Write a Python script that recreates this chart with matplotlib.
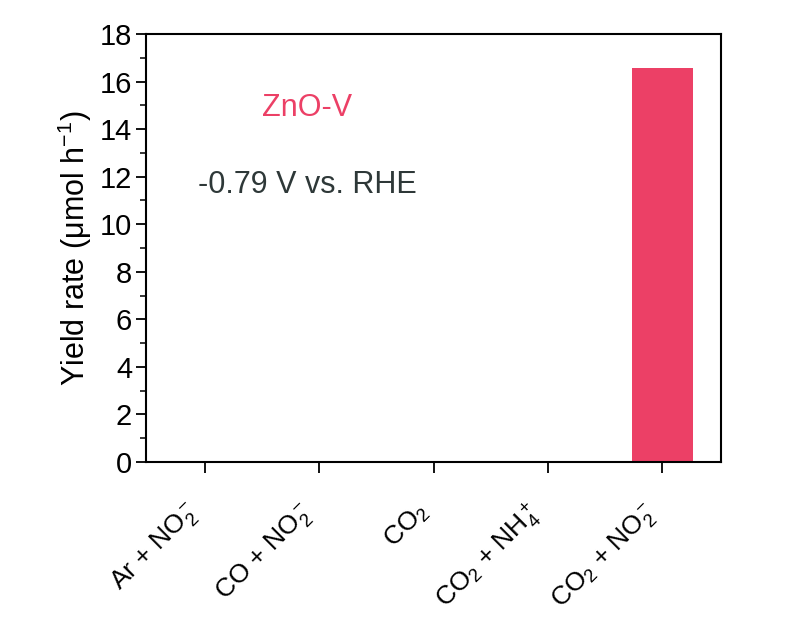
import matplotlib
matplotlib.use("Agg")
import matplotlib.pyplot as plt
from matplotlib.ticker import MultipleLocator

plt.rcParams["font.family"] = ["Liberation Sans", "DejaVu Sans"]
plt.rcParams["mathtext.fontset"] = "custom"
plt.rcParams["mathtext.rm"] = "Liberation Sans"
plt.rcParams["mathtext.it"] = "Liberation Sans:italic"
plt.rcParams["mathtext.default"] = "regular"

categories = [r"Ar + NO$_2^-$", r"CO + NO$_2^-$", r"CO$_2$",
              r"CO$_2$ + NH$_4^+$", r"CO$_2$ + NO$_2^-$"]
yield_rate = [0, 0, 0, 0, 16.55]

BAR_COLOR = "#EC4066"
TEXT_DARK = "#2E3838"

fig = plt.figure(figsize=(8, 6.35), dpi=100)
ax = fig.add_axes([0.1825, 0.2724, 0.7185, 0.6741])

x = range(len(categories))
ax.bar(x, yield_rate, width=0.53, color=BAR_COLOR)

ax.set_xlim(-0.515, 4.51)
ax.set_ylim(0, 18)
ax.yaxis.set_major_locator(MultipleLocator(2))
ax.yaxis.set_minor_locator(MultipleLocator(1))
ax.set_xticks(list(x))
ax.set_xticklabels(categories, rotation=45, ha="right", fontsize=19)

for spine in ax.spines.values():
    spine.set_linewidth(1.5)
ax.tick_params(axis="y", which="major", direction="out", length=7, width=1.3,
               labelsize=21, pad=3)
ax.tick_params(axis="y", which="minor", direction="out", length=4, width=1.1)
ax.tick_params(axis="x", which="major", direction="out", length=8, width=1.3,
               pad=18)
for lbl in ax.get_xticklabels():
    lbl.set_x(lbl.get_position()[0])

ax.set_ylabel(r"Yield rate ($\mu$mol h$^{-1}$)", fontsize=22, labelpad=4)

ax.text(0.281, 0.827, "ZnO-V", transform=ax.transAxes, color=BAR_COLOR,
        fontsize=22, ha="center", va="center")
ax.text(0.28, 0.647, "-0.79 V vs. RHE", transform=ax.transAxes,
        color=TEXT_DARK, fontsize=22, ha="center", va="center")

fig.savefig("out.png", dpi=100, facecolor="white")
